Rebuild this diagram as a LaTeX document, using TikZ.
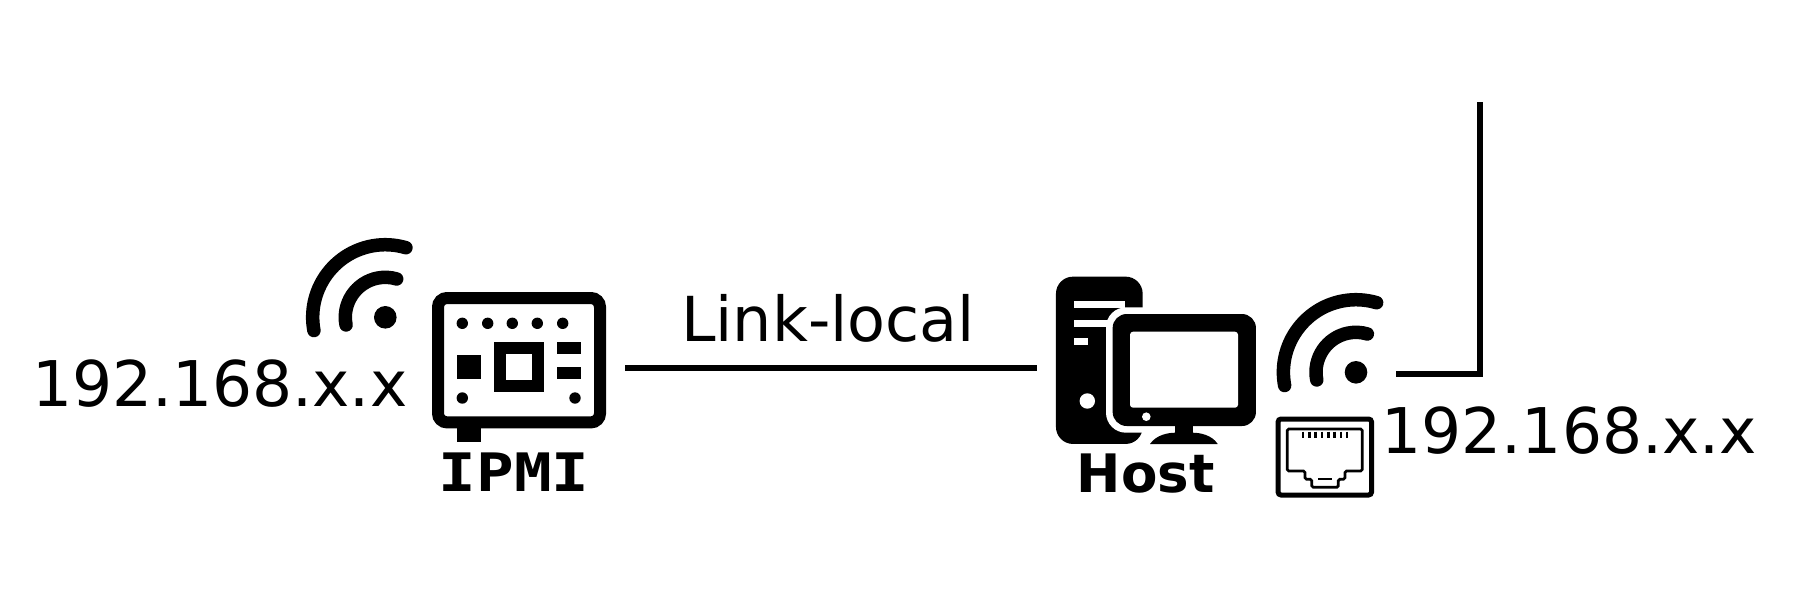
\documentclass[tikz,border=0pt]{standalone}
\usepackage{fontspec}
\setmainfont{DejaVu Sans}
\newfontfamily\ipmifont[FakeStretch=1.18]{DejaVu Sans Mono}
\usetikzlibrary{positioning}

\tikzset{
wave/.style={line width=13.5pt, line cap=round},
wifi/.pic={
\fill (0,0) circle[radius=11.3pt];
\draw[wave] (190.5:72.6pt) arc[start angle=190.5, end angle=73.5, radius=72.6pt];
\draw[wave] (191:40pt) arc[start angle=191, end angle=73.5, radius=40pt];
}
}

\begin{document}
\begin{tikzpicture}[x=1pt, y=-1pt,
textlabel/.style={inner sep=0pt, font=\fontsize{63}{63}\selectfont},
blackbox/.style={fill=black, inner sep=0pt},
whitebox/.style={fill=white, inner sep=0pt},
pinhole/.style={fill=black},
wire/.style={line width=6pt, line cap=butt}
]
\useasboundingbox (0,0) rectangle (1803,603);

% IPMI board
\node[draw, line width=12pt, rounded corners=9pt, inner sep=0pt, minimum width=162pt, minimum height=124.4pt] (ipmi) at (519,360.2) {};
\fill (457,428) rectangle (481,442);
\foreach \px in {462.3,487.7,512.3,537.3,562.7}
\fill[pinhole] (\px,323.3) circle[radius=5.7pt];
\fill[pinhole] (462.3,398) circle[radius=5.7pt];
\fill[pinhole] (575,398) circle[radius=5.7pt];
\draw[line width=12pt] (500,348) rectangle (538,386);
\fill (457,355) rectangle (481,379);
\fill (557,342) rectangle (581,354);
\fill (557,367) rectangle (581,379);
\node[inner sep=0pt, below=24pt of ipmi, xshift=-4.8pt, font=\ipmifont\bfseries\fontsize{53}{53}\selectfont] (ipmilabel) {IPMI};

% Host
\node[blackbox, rounded corners=17pt, minimum width=86.7pt, minimum height=167.3pt] (tower) at (1099.3,360.3) {};
\node[whitebox, rounded corners=20pt, minimum width=156pt, minimum height=125.4pt] (halo) at (1184,370) {};
\fill[white] (1074,301.3) rectangle (1125,308);
\fill[white] (1074,320) rectangle (1108,326.7);
\fill[white] (1074,338.3) rectangle (1088,345);
\fill[white] (1087.3,401) circle[radius=7.7pt];
\node[blackbox, rounded corners=14pt, minimum width=143.3pt, minimum height=112pt] (monitor) at (1184.3,370) {};
\node[whitebox, rounded corners=3pt, minimum width=108pt, minimum height=76pt] (screen) at (1184,369.7) {};
\fill[white] (1146.3,416.7) circle[radius=4.3pt];
\fill (1175,426) rectangle (1192.7,434);
\fill (1150,444) .. controls (1156,435) and (1168,432.7) .. (1175,432.7) -- (1192.7,432.7) .. controls (1200,432.7) and (1212,435) .. (1217.7,444) -- cycle;
\node[inner sep=0pt, below=9.3pt of tower, xshift=46.4pt, font=\bfseries\fontsize{53}{53}\selectfont] (hostlabel) {Host};

% Wifi icons
\pic (wifiipmi) at (385.3,317.3) {wifi};
\pic (wifihost) at (1356,372.3) {wifi};

% RJ45 port
\node[draw, line width=5pt, rounded corners=3pt, inner sep=0pt, minimum width=93.5pt, minimum height=76pt] (port) at (1324.8,457) {};
\draw[line width=2.7pt, rounded corners=1.5pt] (1287.3,429) -- (1362.3,429) -- (1362.3,471) -- (1345,471) -- (1345,479.3) -- (1338.3,479.3) -- (1338.3,487.3) -- (1311.7,487.3) -- (1311.7,479.3) -- (1305,479.3) -- (1305,471) -- (1287.3,471) -- cycle;
\foreach \px in {0,...,7}
\draw[line width=2.6pt] (1303+\px*6.3,431.7) -- (1303+\px*6.3,438.3);
\draw[line width=2pt] (1318,479) -- (1332,479);

% Labels
\node[textlabel, anchor=base west] (ipmiaddr) at (32,406) {192.168.x.x};
\node[textlabel, anchor=base west] (hostaddr) at (1381.5,453.3) {192.168.x.x};
\node[textlabel, anchor=base west, font=\fontsize{62}{62}\selectfont] (linklabel) at (681,341.7) {Link-local};

% Wires
\coordinate (ipmiport) at ([xshift=19pt, yshift=-7.5pt]ipmi.east);
\coordinate (hostport) at ([yshift=-7.4pt]tower.west);
\coordinate[left=19pt of hostport] (hostportend);
\draw[wire] (ipmiport) -- (hostportend);
\coordinate (uplinkstart) at (1396,374);
\coordinate (uplinkend) at (1480,102);
\draw[wire, miter limit=10] (uplinkstart) -| (uplinkend);

\end{tikzpicture}
\end{document}
